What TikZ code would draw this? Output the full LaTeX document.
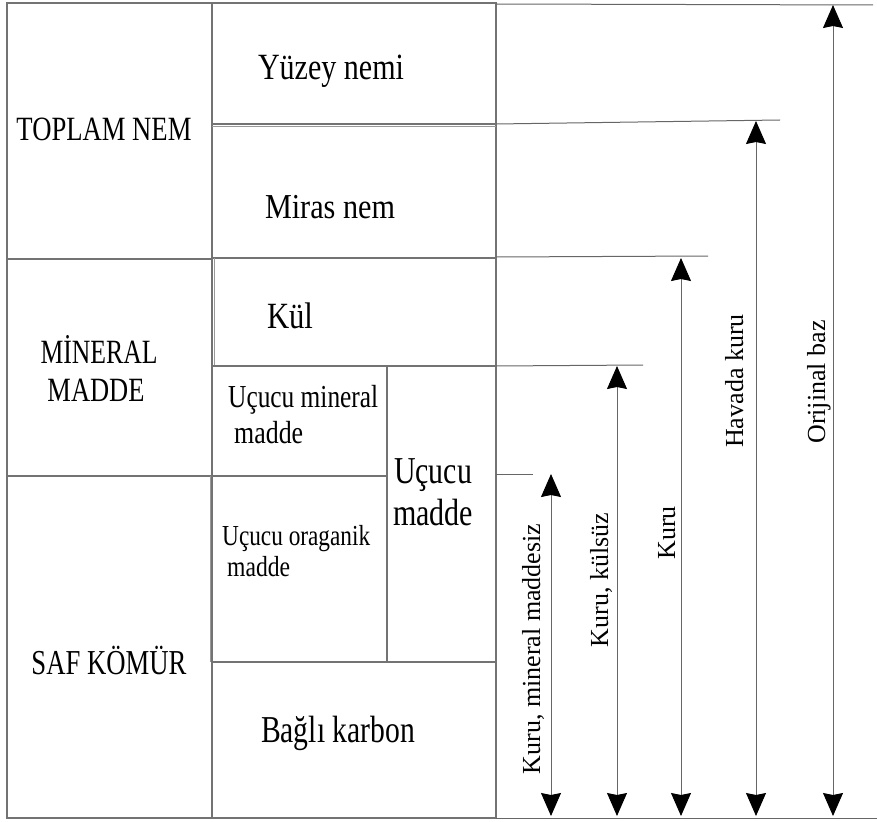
\documentclass[tikz,border=0pt]{standalone}
\usepackage{fontspec}
\usepackage{graphicx}
\setmainfont{Liberation Serif}
\usetikzlibrary{arrows.meta}
\newcommand\fitt[3]{{\fontsize{#1}{#1}\selectfont\resizebox{#2pt}{\height}{#3}}}
\begin{document}
\begin{tikzpicture}[x=1pt,y=-1pt,
  frame/.style={draw=black!55,line width=1.1pt},
  thinframe/.style={draw=black!40,line width=0.7pt},
  guide/.style={draw=black!60,line width=1pt},
  dim/.style={draw=black!60,line width=1pt,{Stealth[length=23pt,width=20pt,inset=2pt,black]}-{Stealth[length=23pt,width=20pt,inset=2pt,black]}},
  lbl/.style={inner sep=0pt,anchor=base},
  lblw/.style={inner sep=0pt,anchor=base west},
  sidetxt/.style={font=\fontsize{26}{28}\selectfont,inner sep=0pt,rotate=90,anchor=base}]
\useasboundingbox (0,0) rectangle (877,821);
% frame of the table
\draw[frame] (7,3) rectangle (496,818);
\draw[frame] (212,3) -- (212,818);
\draw[frame] (7,259) -- (212,259);
\draw[frame] (7,476) -- (387,476);
\draw[frame] (212,124) -- (496,124);
\draw[thinframe] (212,126) -- (496,126);
\draw[frame] (212,258) -- (496,258);
\draw[thinframe] (214,258) -- (214,366);
\draw[frame] (212,366) -- (496,366);
\draw[thinframe] (210,476) -- (210,662);
\draw[frame] (212,662) -- (496,662);
\draw[frame] (387,366) -- (387,662);
% guide lines on the right
\draw[guide] (496,4) -- (873,5);
\draw[guide] (496,124) -- (780,120);
\draw[guide] (496,257) -- (708,256);
\draw[guide] (496,366) -- (643,365);
\draw[guide] (496,474) -- (533,474);
\draw[guide] (496,818) -- (877,818);
% texts
\node[lbl] (toplam) at (104,141) {\fitt{34}{175}{TOPLAM NEM}};
\node[lbl] (mineral1) at (99,363) {\fitt{34}{117}{M\.INERAL}};
\node[lbl] (mineral2) at (96,401) {\fitt{34}{97}{MADDE}};
\node[lbl] (saf) at (109,674) {\fitt{35}{155}{SAF KÖMÜR}};
\node[lbl] (yuzey) at (331,80) {\fitt{37}{146}{Yüzey nemi}};
\node[lbl] (miras) at (330,218) {\fitt{35}{130}{Miras nem}};
\node[lbl] (kul) at (290,328) {\fitt{37}{46}{Kül}};
\node[lblw] (umm1) at (228,407) {\fitt{32}{150}{Uçucu mineral}};
\node[lblw] (umm2) at (234,443) {\fitt{32}{69}{madde}};
\node[lblw] (uom1) at (222,545) {\fitt{29}{148}{Uçucu oraganik}};
\node[lblw] (uom2) at (227,576) {\fitt{29}{63}{madde}};
\node[lbl] (um1) at (433,483) {\fitt{38}{78}{Uçucu}};
\node[lbl] (um2) at (433,525) {\fitt{38}{80}{madde}};
\node[lbl] (bagli) at (338,742) {\fitt{38}{154}{Bağlı karbon}};
% dimension arrows
\coordinate (o1) at (833,5);   \coordinate (o2) at (833,816);
\coordinate (h1) at (756,121); \coordinate (h2) at (756,816);
\coordinate (k1) at (681,258); \coordinate (k2) at (681,816);
\coordinate (ks1) at (617,366); \coordinate (ks2) at (617,816);
\coordinate (km1) at (551,474); \coordinate (km2) at (551,816);
\draw[dim] (o1) -- (o2);
\draw[dim] (h1) -- (h2);
\draw[dim] (k1) -- (k2);
\draw[dim] (ks1) -- (ks2);
\draw[dim] (km1) -- (km2);
\node[sidetxt] (lo) at (825,382) {Orijinal baz};
\node[sidetxt] (lh) at (743,381) {Havada kuru};
\node[sidetxt] (lk) at (675,533) {Kuru};
\node[sidetxt] (lks) at (608,580) {Kuru, külsüz};
\node[sidetxt] (lkm) at (540,649) {Kuru, mineral maddesiz};
\end{tikzpicture}
\end{document}
